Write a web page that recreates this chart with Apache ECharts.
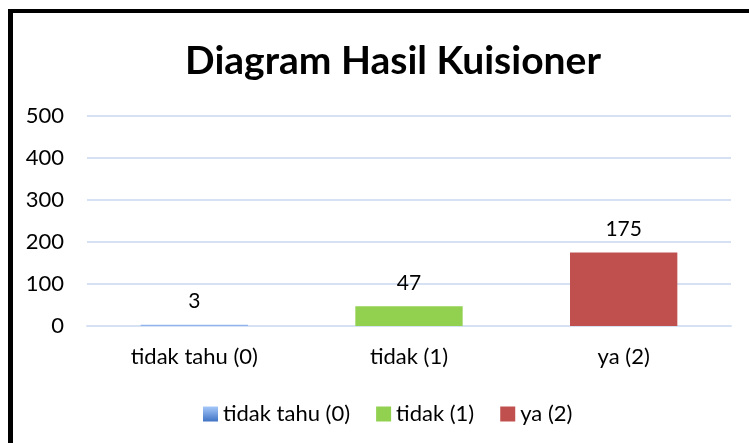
<!DOCTYPE html>
<html>
<head>
<meta charset="UTF-8">
<title>Diagram Hasil Kuisioner</title>
<script src="https://cdn.jsdelivr.net/npm/echarts@6/dist/echarts.min.js"></script>
<style>
  body{margin:0;padding:0;background:#fff;}
  #chart{width:749px;height:443px;}
</style>
</head>
<body>
<div id="chart"></div>
<script type="text/javascript">
var categories = ['tidak tahu (0)', 'tidak (1)', 'ya (2)'];
var values = [3, 47, 175];
var barColors = ['#8fb4ee', '#92d050', '#c0504d'];
var yTicks = [0, 100, 200, 300, 400, 500];

var chart = echarts.init(document.getElementById('chart'));
var font = 'Lato';

// one series per category so the legend shows each; stacked so bars stay centred
var series = categories.map(function(name, i){
  var d = categories.map(function(c, j){ return j === i ? values[i] : '-'; });
  return {
    name: name,
    type: 'bar',
    stack: 'one',
    barWidth: '50%',
    data: d,
    itemStyle: {color: barColors[i]},
    label: {show: true, position: 'top', distance: 13, color: '#000', fontSize: 21, fontFamily: font}
  };
});

var legendData = categories.map(function(name, i){
  var item = {name: name};
  if(i === 0){
    item.itemStyle = {color: new echarts.graphic.LinearGradient(0, 0, 0, 1, [{offset:0,color:'#a6c8fa'},{offset:1,color:'#3f73c4'}])};
  }
  return item;
});

var option = {
  animation: false,
  title: {
    text: 'Diagram Hasil Kuisioner',
    left: 388, top: 37, textAlign: 'center',
    textStyle: {fontSize: 39, fontWeight: 'bold', fontFamily: font, color: '#000'}
  },
  legend: {
    data: legendData,
    left: 198, top: 398,
    icon: 'rect', itemWidth: 15, itemHeight: 15, itemGap: 26,
    textStyle: {fontSize: 22, fontFamily: font, color: '#000'}
  },
  grid: {left: 87, right: 18, top: 116, bottom: 117},
  xAxis: {
    type: 'category',
    data: categories,
    axisLine: {lineStyle: {color: '#d6e2f3', width: 2}},
    axisTick: {show: false},
    axisLabel: {fontSize: 22, fontFamily: font, color: '#000', margin: 20}
  },
  yAxis: {
    type: 'value',
    min: yTicks[0], max: yTicks[yTicks.length-1], interval: 100,
    axisLine: {show: false},
    axisTick: {show: false},
    splitLine: {lineStyle: {color: '#d6e2f3', width: 2}},
    axisLabel: {fontSize: 22, fontFamily: font, color: '#000', margin: 23}
  },
  graphic: [
    {type: 'rect', left: 8, top: 9, shape: {width: 5, height: 434}, style: {fill: '#000'}},
    {type: 'rect', left: 8, top: 9, shape: {width: 741, height: 4}, style: {fill: '#000'}}
  ],
  series: series
};
chart.setOption(option);
</script>
</body>
</html>
